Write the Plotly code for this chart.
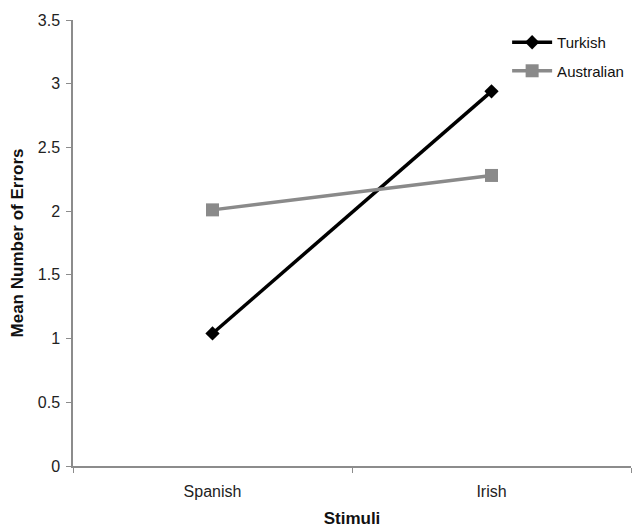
import plotly.graph_objects as go

categories = ["Spanish", "Irish"]
turkish = [1.04, 2.94]
australian = [2.01, 2.28]
y_ticks = [0, 0.5, 1, 1.5, 2, 2.5, 3, 3.5]
y_tick_labels = ["0", "0.5", "1", "1.5", "2", "2.5", "3", "3.5"]

fig = go.Figure()
fig.add_trace(go.Scatter(
    x=categories, y=turkish, name="Turkish", mode="lines+markers",
    legendgroup="t",
    line=dict(color="black", width=3.5),
    marker=dict(symbol="diamond", size=11, color="black"),
))
fig.add_trace(go.Scatter(
    x=categories, y=australian, name="Australian", mode="lines+markers",
    legendgroup="a",
    line=dict(color="#8a8a8a", width=3.5),
    marker=dict(symbol="square", size=13, color="#8a8a8a"),
))

axis_color = "#8c8c8c"
fig.update_layout(
    width=635, height=528,
    margin=dict(l=73, r=4, t=20, b=62, autoexpand=False),
    paper_bgcolor="white", plot_bgcolor="white",
    font=dict(family="Liberation Sans, Arial, sans-serif", size=16, color="#222"),
    legend=dict(x=0.778, y=0.9865, xanchor="left", yanchor="top",
                bgcolor="rgba(0,0,0,0)", font=dict(size=15, color="#111"),
                itemwidth=40, tracegroupgap=6),
    xaxis=dict(
        type="category", range=[-0.5, 1.5], automargin=False,
        showline=True, linecolor=axis_color, linewidth=1.5,
        ticks="outside", tickson="boundaries", ticklen=5, tickcolor=axis_color,
        ticklabelstandoff=10,
        showgrid=False, zeroline=False,
        title=dict(text="<b>Stimuli</b>", font=dict(size=17, color="#111"), standoff=14),
    ),
    yaxis=dict(
        range=[0, 3.5], tickvals=y_ticks, ticktext=y_tick_labels, automargin=False,
        showline=True, linecolor=axis_color, linewidth=1.5,
        ticks="outside", ticklen=5, tickcolor=axis_color,
        ticklabelstandoff=3,
        showgrid=False, zeroline=False,
        title=dict(text="<b>Mean Number of Errors</b>", font=dict(size=17, color="#111"), standoff=10),
    ),
)

fig.write_html("out.html", config={"displayModeBar": False},
               post_script="document.body.style.margin='0px';")
